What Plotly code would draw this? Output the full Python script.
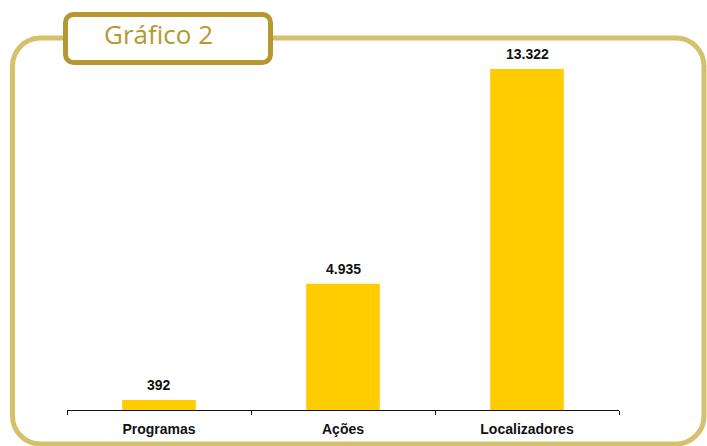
import plotly.graph_objects as go

# Chart data
categories = ["Programas", "Ações", "Localizadores"]
values = [392, 4935, 13322]
title_text = "Gráfico 2"

W, H = 707, 446
M_L, M_R, M_T, M_B = 67, 88, 40, 36
plot_w = W - M_L - M_R
plot_h = H - M_T - M_B
baseline_px = H - M_B
# vertical scale: 13.322 occupies 341 px above the baseline
y_top = max(values) * plot_h / 341.0

BAR = "#FFCC00"
FRAME = "#D5C16B"
BOX = "#B5982F"


def px(x, y):
    """Pixel position -> paper coordinates."""
    return (x - M_L) / plot_w, (baseline_px - y) / plot_h


def rounded_rect(x0, y0, x1, y1, r):
    k = 0.5523 * r
    pts = []

    def P(x, y):
        a, b = px(x, y)
        return f"{a:.5f},{b:.5f}"

    pts.append(f"M{P(x0 + r, y0)}")
    pts.append(f"L{P(x1 - r, y0)}")
    pts.append(f"C{P(x1 - r + k, y0)} {P(x1, y0 + r - k)} {P(x1, y0 + r)}")
    pts.append(f"L{P(x1, y1 - r)}")
    pts.append(f"C{P(x1, y1 - r + k)} {P(x1 - r + k, y1)} {P(x1 - r, y1)}")
    pts.append(f"L{P(x0 + r, y1)}")
    pts.append(f"C{P(x0 + r - k, y1)} {P(x0, y1 - r + k)} {P(x0, y1 - r)}")
    pts.append(f"L{P(x0, y0 + r)}")
    pts.append(f"C{P(x0, y0 + r - k)} {P(x0 + r - k, y0)} {P(x0 + r, y0)}")
    pts.append("Z")
    return " ".join(pts)


fig = go.Figure(
    go.Bar(
        x=categories,
        y=values,
        marker=dict(color=BAR, line=dict(width=0)),
        width=0.4,
        hoverinfo="skip",
    )
)

# value labels above the bars
for c, v in zip(categories, values):
    fig.add_annotation(
        x=c, y=v, xref="x", yref="y",
        text=f"<b>{v:,}</b>".replace(",", "."),
        showarrow=False, yanchor="bottom", yshift=5,
        font=dict(family="Liberation Sans", size=14, color="#111111"),
    )

# outer frame and title box
fig.add_shape(
    type="path", xref="paper", yref="paper",
    path=rounded_rect(12.5, 38, 704, 444, 28),
    line=dict(color=FRAME, width=5), fillcolor="rgba(0,0,0,0)",
    layer="above",
)
fig.add_shape(
    type="path", xref="paper", yref="paper",
    path=rounded_rect(65.5, 14.5, 270.5, 62.5, 8),
    line=dict(color=BOX, width=5), fillcolor="white",
    layer="above",
)
tx, ty = px(158, 34)
fig.add_annotation(
    x=tx, y=ty, xref="paper", yref="paper",
    text=title_text, showarrow=False,
    xanchor="center", yanchor="middle",
    font=dict(family="Open Sans", size=26, color=BOX, weight=500),
)

fig.update_layout(
    width=W, height=H,
    margin=dict(l=M_L, r=M_R, t=M_T, b=M_B, pad=0),
    paper_bgcolor="white", plot_bgcolor="white",
    showlegend=False,
    separators=",.",
    xaxis=dict(
        type="category",
        automargin=False,
        tickson="boundaries",
        ticks="outside", ticklen=4, tickcolor="#111111", tickwidth=1,
        showline=True, linecolor="#111111", linewidth=1,
        showgrid=False, zeroline=False,
        ticklabelstandoff=6,
        tickfont=dict(family="Liberation Sans", size=14, color="#111111", weight="bold"),
        range=[-0.5, 2.5],
    ),
    yaxis=dict(
        range=[0, y_top], visible=False, showgrid=False, zeroline=False,
        automargin=False,
    ),
)

fig.write_html("out.html")
